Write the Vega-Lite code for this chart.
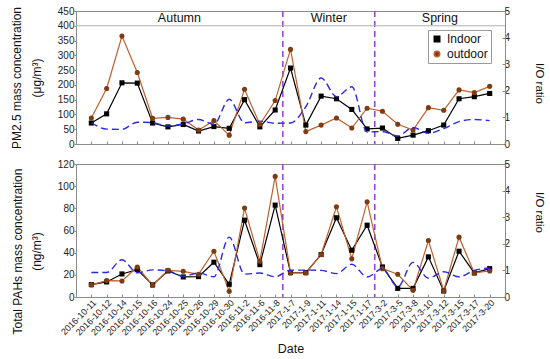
{
  "$schema": "https://vega.github.io/schema/vega-lite/v6.json",
  "padding": {"left": 9, "top": 5, "right": 2, "bottom": 2},
  "spacing": 20,
  "bounds": "flush",
  "background": "white",
  "config": {
    "font": "Liberation Sans",
    "view": {"stroke": "#8c8c8c", "strokeWidth": 1},
    "axis": {
      "grid": false,
      "domainColor": "#8c8c8c",
      "tickColor": "#8c8c8c",
      "labelColor": "#222222",
      "labelFont": "Liberation Sans",
      "labelFontSize": 10,
      "labelOverlap": false,
      "titleFont": "Liberation Sans",
      "titleFontWeight": "normal",
      "titleFontSize": 12,
      "titleColor": "#111111"
    }
  },
  "datasets": {
    "pm": [
      {"idx": 0, "date": "2016-10-11", "Indoor": 71, "outdoor": 88, "ratio": 0.80},
      {"idx": 1, "date": "2016-10-12", "Indoor": 102, "outdoor": 188, "ratio": 0.56},
      {"idx": 2, "date": "2016-10-14", "Indoor": 207, "outdoor": 365, "ratio": 0.55},
      {"idx": 3, "date": "2016-10-15", "Indoor": 206, "outdoor": 242, "ratio": 0.82},
      {"idx": 4, "date": "2016-10-16", "Indoor": 71, "outdoor": 87, "ratio": 0.80},
      {"idx": 5, "date": "2016-10-24", "Indoor": 58, "outdoor": 90, "ratio": 0.68},
      {"idx": 6, "date": "2016-10-25", "Indoor": 66, "outdoor": 84, "ratio": 0.76},
      {"idx": 7, "date": "2016-10-26", "Indoor": 44, "outdoor": 47, "ratio": 0.92},
      {"idx": 8, "date": "2016-10-29", "Indoor": 59, "outdoor": 79, "ratio": 0.74},
      {"idx": 9, "date": "2016-10-30", "Indoor": 53, "outdoor": 30, "ratio": 1.68},
      {"idx": 10, "date": "2016-11-2", "Indoor": 150, "outdoor": 185, "ratio": 0.80},
      {"idx": 11, "date": "2016-11-6", "Indoor": 58, "outdoor": 66, "ratio": 0.86},
      {"idx": 12, "date": "2016-11-8", "Indoor": 115, "outdoor": 147, "ratio": 0.78},
      {"idx": 13, "date": "2017-1-7", "Indoor": 257, "outdoor": 320, "ratio": 0.79},
      {"idx": 14, "date": "2017-1-9", "Indoor": 64, "outdoor": 42, "ratio": 1.40},
      {"idx": 15, "date": "2017-1-11", "Indoor": 162, "outdoor": 64, "ratio": 2.48},
      {"idx": 16, "date": "2017-1-14", "Indoor": 153, "outdoor": 88, "ratio": 1.78},
      {"idx": 17, "date": "2017-1-15", "Indoor": 117, "outdoor": 54, "ratio": 2.15},
      {"idx": 18, "date": "2017-1-17", "Indoor": 51, "outdoor": 121, "ratio": 0.45},
      {"idx": 19, "date": "2017-3-2", "Indoor": 54, "outdoor": 111, "ratio": 0.47},
      {"idx": 20, "date": "2017-3-5", "Indoor": 19, "outdoor": 67, "ratio": 0.30},
      {"idx": 21, "date": "2017-3-8", "Indoor": 30, "outdoor": 47, "ratio": 0.62},
      {"idx": 22, "date": "2017-3-10", "Indoor": 45, "outdoor": 123, "ratio": 0.40},
      {"idx": 23, "date": "2017-3-12", "Indoor": 64, "outdoor": 114, "ratio": 0.58},
      {"idx": 24, "date": "2017-3-15", "Indoor": 153, "outdoor": 183, "ratio": 0.84},
      {"idx": 25, "date": "2017-3-17", "Indoor": 160, "outdoor": 174, "ratio": 0.92},
      {"idx": 26, "date": "2017-3-20", "Indoor": 171, "outdoor": 195, "ratio": 0.88}
    ],
    "pah": [
      {"idx": 0, "date": "2016-10-11", "Indoor": 11.2, "outdoor": 10.9, "ratio": 0.92},
      {"idx": 1, "date": "2016-10-12", "Indoor": 13.6, "outdoor": 14.8, "ratio": 0.92},
      {"idx": 2, "date": "2016-10-14", "Indoor": 20.8, "outdoor": 14.5, "ratio": 1.40},
      {"idx": 3, "date": "2016-10-15", "Indoor": 24.7, "outdoor": 27.1, "ratio": 0.91},
      {"idx": 4, "date": "2016-10-16", "Indoor": 10.9, "outdoor": 10.6, "ratio": 1.02},
      {"idx": 5, "date": "2016-10-24", "Indoor": 23.5, "outdoor": 24.1, "ratio": 0.98},
      {"idx": 6, "date": "2016-10-25", "Indoor": 18.1, "outdoor": 23.2, "ratio": 0.78},
      {"idx": 7, "date": "2016-10-26", "Indoor": 18.4, "outdoor": 20.5, "ratio": 0.90},
      {"idx": 8, "date": "2016-10-29", "Indoor": 31.4, "outdoor": 41.3, "ratio": 0.76},
      {"idx": 9, "date": "2016-10-30", "Indoor": 11.5, "outdoor": 5.1, "ratio": 2.25},
      {"idx": 10, "date": "2016-11-2", "Indoor": 69.3, "outdoor": 80.2, "ratio": 0.86},
      {"idx": 11, "date": "2016-11-6", "Indoor": 29.2, "outdoor": 32.3, "ratio": 0.90},
      {"idx": 12, "date": "2016-11-8", "Indoor": 82.9, "outdoor": 108.8, "ratio": 0.76},
      {"idx": 13, "date": "2017-1-7", "Indoor": 22.0, "outdoor": 21.7, "ratio": 1.01},
      {"idx": 14, "date": "2017-1-9", "Indoor": 22.0, "outdoor": 21.7, "ratio": 1.01},
      {"idx": 15, "date": "2017-1-11", "Indoor": 38.3, "outdoor": 38.3, "ratio": 1.0},
      {"idx": 16, "date": "2017-1-14", "Indoor": 71.5, "outdoor": 81.4, "ratio": 0.88},
      {"idx": 17, "date": "2017-1-15", "Indoor": 42.2, "outdoor": 34.4, "ratio": 1.23},
      {"idx": 18, "date": "2017-1-17", "Indoor": 64.8, "outdoor": 85.9, "ratio": 0.75},
      {"idx": 19, "date": "2017-3-2", "Indoor": 27.1, "outdoor": 25.6, "ratio": 1.06},
      {"idx": 20, "date": "2017-3-5", "Indoor": 7.8, "outdoor": 20.5, "ratio": 0.38},
      {"idx": 21, "date": "2017-3-8", "Indoor": 7.8, "outdoor": 6.0, "ratio": 1.30},
      {"idx": 22, "date": "2017-3-10", "Indoor": 36.2, "outdoor": 51.0, "ratio": 0.71},
      {"idx": 23, "date": "2017-3-12", "Indoor": 5.4, "outdoor": 5.7, "ratio": 0.95},
      {"idx": 24, "date": "2017-3-15", "Indoor": 41.3, "outdoor": 54.0, "ratio": 0.76},
      {"idx": 25, "date": "2017-3-17", "Indoor": 21.7, "outdoor": 21.7, "ratio": 1.0},
      {"idx": 26, "date": "2017-3-20", "Indoor": 25.6, "outdoor": 23.5, "ratio": 1.09}
    ],
    "bounds": [{"b": 12.5}, {"b": 18.5}],
    "seasons": [
      {"season": "Autumn", "mid": 5.75},
      {"season": "Winter", "mid": 15.5},
      {"season": "Spring", "mid": 22.75}
    ]
  },
  "resolve": {"scale": {"fill": "independent", "stroke": "independent", "shape": "independent"}},
  "vconcat": [
    {
      "width": 429,
      "height": 133,
      "layer": [
        {
          "layer": [
            {
              "data": {"name": "bounds"},
              "mark": {"type": "rule", "color": "#9a3be0", "strokeDash": [6, 4], "strokeWidth": 1.5},
              "encoding": {
                "x": {"field": "b", "type": "quantitative", "title": null,
                  "scale": {"domain": [-1, 27], "nice": false, "zero": false},
                  "axis": {"values": [0,1,2,3,4,5,6,7,8,9,10,11,12,13,14,15,16,17,18,19,20,21,22,23,24,25,26], "labels": false, "tickSize": -3, "title": null, "labelOverlap": false}}
              }
            },
            {
              "data": {"values": [{}]},
              "mark": {"type": "rule", "color": "#b0b0b0", "strokeWidth": 1},
              "encoding": {
                "y": {"datum": 400, "type": "quantitative",
                  "scale": {"domain": [0, 450], "nice": false},
                  "axis": {"values": [0,50,100,150,200,250,300,350,400,450], "labelOverlap": false, "tickSize": 2, "labelPadding": 0, "titlePadding": 14, "titleLineHeight": 20, "title": ["PM2.5 mass concentration", "(μg/m³)"]}}
              }
            },
            {
              "data": {"name": "seasons"},
              "mark": {"type": "text", "fontSize": 12.5, "font": "Liberation Sans", "color": "#111111", "baseline": "middle"},
              "encoding": {
                "x": {"field": "mid", "type": "quantitative", "title": null,
                  "scale": {"domain": [-1, 27], "nice": false, "zero": false},
                  "axis": {"values": [0,1,2,3,4,5,6,7,8,9,10,11,12,13,14,15,16,17,18,19,20,21,22,23,24,25,26], "labels": false, "tickSize": -3, "title": null, "labelOverlap": false}},
                "y": {"datum": 426, "type": "quantitative",
                  "scale": {"domain": [0, 450], "nice": false},
                  "axis": {"values": [0,50,100,150,200,250,300,350,400,450], "labelOverlap": false, "tickSize": 2, "labelPadding": 0, "titlePadding": 14, "titleLineHeight": 20, "title": ["PM2.5 mass concentration", "(μg/m³)"]}},
                "text": {"field": "season"}
              }
            },
            {
              "data": {"name": "pm"},
              "transform": [{"fold": ["Indoor", "outdoor"], "as": ["series", "value"]}],
              "mark": {"type": "line", "strokeWidth": 1.2},
              "encoding": {
                "x": {"field": "idx", "type": "quantitative", "title": null,
                  "scale": {"domain": [-1, 27], "nice": false, "zero": false},
                  "axis": {"values": [0,1,2,3,4,5,6,7,8,9,10,11,12,13,14,15,16,17,18,19,20,21,22,23,24,25,26], "labels": false, "tickSize": -3, "title": null, "labelOverlap": false}},
                "y": {"field": "value", "type": "quantitative",
                  "scale": {"domain": [0, 450], "nice": false},
                  "axis": {"values": [0,50,100,150,200,250,300,350,400,450], "labelOverlap": false, "tickSize": 2, "labelPadding": 0, "titlePadding": 14, "titleLineHeight": 20, "title": ["PM2.5 mass concentration", "(μg/m³)"]}},
                "detail": {"field": "series"},
                "stroke": {"field": "series", "type": "nominal", "scale": {"domain": ["Indoor", "outdoor"], "range": ["#000000", "#c0602e"]}}
              }
            },
            {
              "data": {"name": "pm"},
              "transform": [{"fold": ["Indoor", "outdoor"], "as": ["series", "value"]}],
              "mark": {"type": "point", "filled": true, "size": 26, "opacity": 1},
              "encoding": {
                "x": {"field": "idx", "type": "quantitative", "title": null,
                  "scale": {"domain": [-1, 27], "nice": false, "zero": false},
                  "axis": {"values": [0,1,2,3,4,5,6,7,8,9,10,11,12,13,14,15,16,17,18,19,20,21,22,23,24,25,26], "labels": false, "tickSize": -3, "title": null, "labelOverlap": false}},
                "y": {"field": "value", "type": "quantitative",
                  "scale": {"domain": [0, 450], "nice": false},
                  "axis": {"values": [0,50,100,150,200,250,300,350,400,450], "labelOverlap": false, "tickSize": 2, "labelPadding": 0, "titlePadding": 14, "titleLineHeight": 20, "title": ["PM2.5 mass concentration", "(μg/m³)"]}},
                "shape": {"field": "series", "type": "nominal", "scale": {"domain": ["Indoor", "outdoor"], "range": ["square", "circle"]}},
                "fill": {
                  "field": "series", "type": "nominal",
                  "scale": {"domain": ["Indoor", "outdoor"], "range": ["#000000", "#7e3c12"]},
                  "legend": {
                    "orient": "none", "legendX": 352, "legendY": 19, "title": null,
                    "strokeColor": "#9a9a9a", "fillColor": "white", "padding": 3,
                    "labelFontSize": 12, "labelFont": "Liberation Sans", "labelColor": "#111111",
                    "symbolSize": 30, "rowPadding": 3, "labelOffset": 4
                  }
                }
              }
            }
          ]
        },
        {
          "data": {"name": "pm"},
          "mark": {"type": "line", "color": "#2b2bd9", "strokeDash": [7, 4], "strokeWidth": 1.4, "interpolate": "monotone"},
          "encoding": {
            "x": {"field": "idx", "type": "quantitative", "title": null,
              "scale": {"domain": [-1, 27], "nice": false, "zero": false},
              "axis": {"values": [0,1,2,3,4,5,6,7,8,9,10,11,12,13,14,15,16,17,18,19,20,21,22,23,24,25,26], "labels": false, "tickSize": -3, "title": null, "labelOverlap": false}},
            "y": {
              "field": "ratio", "type": "quantitative",
              "scale": {"domain": [0, 5], "nice": false},
              "axis": {"orient": "right", "values": [0,1,2,3,4,5], "labelOverlap": false, "tickSize": -3, "labelPadding": 2, "title": "I/O ratio", "titleAngle": 90, "titlePadding": 24, "titleFontSize": 11.5, "titleY": 72}
            }
          }
        }
      ],
      "resolve": {"scale": {"y": "independent"}}
    },
    {
      "width": 429,
      "height": 133,
      "layer": [
        {
          "layer": [
            {
              "data": {"name": "bounds"},
              "mark": {"type": "rule", "color": "#9a3be0", "strokeDash": [6, 4], "strokeWidth": 1.5},
              "encoding": {
                "x": {"field": "b", "type": "quantitative",
                  "scale": {"domain": [-1, 27], "nice": false, "zero": false},
                  "axis": {
                    "values": [0,1,2,3,4,5,6,7,8,9,10,11,12,13,14,15,16,17,18,19,20,21,22,23,24,25,26],
                    "labelExpr": "['2016-10-11','2016-10-12','2016-10-14','2016-10-15','2016-10-16','2016-10-24','2016-10-25','2016-10-26','2016-10-29','2016-10-30','2016-11-2','2016-11-6','2016-11-8','2017-1-7','2017-1-9','2017-1-11','2017-1-14','2017-1-15','2017-1-17','2017-3-2','2017-3-5','2017-3-8','2017-3-10','2017-3-12','2017-3-15','2017-3-17','2017-3-20'][datum.value]",
                    "labelOverlap": false, "labelAngle": -45, "labelFontSize": 9, "tickSize": -3, "labelPadding": 4,
                    "title": "Date", "titleFontSize": 12.5, "titlePadding": 6
                  }}
              }
            },
            {
              "data": {"name": "pah"},
              "transform": [{"fold": ["Indoor", "outdoor"], "as": ["series", "value"]}],
              "mark": {"type": "line", "strokeWidth": 1.2},
              "encoding": {
                "x": {"field": "idx", "type": "quantitative",
                  "scale": {"domain": [-1, 27], "nice": false, "zero": false},
                  "axis": {
                    "values": [0,1,2,3,4,5,6,7,8,9,10,11,12,13,14,15,16,17,18,19,20,21,22,23,24,25,26],
                    "labelExpr": "['2016-10-11','2016-10-12','2016-10-14','2016-10-15','2016-10-16','2016-10-24','2016-10-25','2016-10-26','2016-10-29','2016-10-30','2016-11-2','2016-11-6','2016-11-8','2017-1-7','2017-1-9','2017-1-11','2017-1-14','2017-1-15','2017-1-17','2017-3-2','2017-3-5','2017-3-8','2017-3-10','2017-3-12','2017-3-15','2017-3-17','2017-3-20'][datum.value]",
                    "labelOverlap": false, "labelAngle": -45, "labelFontSize": 9, "tickSize": -3, "labelPadding": 4,
                    "title": "Date", "titleFontSize": 12.5, "titlePadding": 6
                  }},
                "y": {"field": "value", "type": "quantitative",
                  "scale": {"domain": [0, 120], "nice": false},
                  "axis": {"values": [0,20,40,60,80,100,120], "labelOverlap": false, "tickSize": 2, "labelPadding": 0, "titlePadding": 14, "titleLineHeight": 19, "titleY": 87, "title": ["Total PAHs mass concentration", "(ng/m³)"]}},
                "detail": {"field": "series"},
                "stroke": {"field": "series", "type": "nominal", "scale": {"domain": ["Indoor", "outdoor"], "range": ["#000000", "#c0602e"]}, "legend": null}
              }
            },
            {
              "data": {"name": "pah"},
              "transform": [{"fold": ["Indoor", "outdoor"], "as": ["series", "value"]}],
              "mark": {"type": "point", "filled": true, "size": 26, "opacity": 1},
              "encoding": {
                "x": {"field": "idx", "type": "quantitative",
                  "scale": {"domain": [-1, 27], "nice": false, "zero": false},
                  "axis": {
                    "values": [0,1,2,3,4,5,6,7,8,9,10,11,12,13,14,15,16,17,18,19,20,21,22,23,24,25,26],
                    "labelExpr": "['2016-10-11','2016-10-12','2016-10-14','2016-10-15','2016-10-16','2016-10-24','2016-10-25','2016-10-26','2016-10-29','2016-10-30','2016-11-2','2016-11-6','2016-11-8','2017-1-7','2017-1-9','2017-1-11','2017-1-14','2017-1-15','2017-1-17','2017-3-2','2017-3-5','2017-3-8','2017-3-10','2017-3-12','2017-3-15','2017-3-17','2017-3-20'][datum.value]",
                    "labelOverlap": false, "labelAngle": -45, "labelFontSize": 9, "tickSize": -3, "labelPadding": 4,
                    "title": "Date", "titleFontSize": 12.5, "titlePadding": 6
                  }},
                "y": {"field": "value", "type": "quantitative",
                  "scale": {"domain": [0, 120], "nice": false},
                  "axis": {"values": [0,20,40,60,80,100,120], "labelOverlap": false, "tickSize": 2, "labelPadding": 0, "titlePadding": 14, "titleLineHeight": 19, "titleY": 87, "title": ["Total PAHs mass concentration", "(ng/m³)"]}},
                "shape": {"field": "series", "type": "nominal", "scale": {"domain": ["Indoor", "outdoor"], "range": ["square", "circle"]}, "legend": null},
                "fill": {"field": "series", "type": "nominal", "scale": {"domain": ["Indoor", "outdoor"], "range": ["#000000", "#7e3c12"]}, "legend": null}
              }
            }
          ]
        },
        {
          "data": {"name": "pah"},
          "mark": {"type": "line", "color": "#2b2bd9", "strokeDash": [7, 4], "strokeWidth": 1.4, "interpolate": "monotone"},
          "encoding": {
            "x": {"field": "idx", "type": "quantitative",
              "scale": {"domain": [-1, 27], "nice": false, "zero": false},
              "axis": {
                "values": [0,1,2,3,4,5,6,7,8,9,10,11,12,13,14,15,16,17,18,19,20,21,22,23,24,25,26],
                "labelExpr": "['2016-10-11','2016-10-12','2016-10-14','2016-10-15','2016-10-16','2016-10-24','2016-10-25','2016-10-26','2016-10-29','2016-10-30','2016-11-2','2016-11-6','2016-11-8','2017-1-7','2017-1-9','2017-1-11','2017-1-14','2017-1-15','2017-1-17','2017-3-2','2017-3-5','2017-3-8','2017-3-10','2017-3-12','2017-3-15','2017-3-17','2017-3-20'][datum.value]",
                "labelOverlap": false, "labelAngle": -45, "labelFontSize": 9, "tickSize": -3, "labelPadding": 4,
                "title": "Date", "titleFontSize": 12.5, "titlePadding": 6
              }},
            "y": {
              "field": "ratio", "type": "quantitative",
              "scale": {"domain": [0, 5], "nice": false},
              "axis": {"orient": "right", "values": [0,1,2,3,4,5], "labelOverlap": false, "tickSize": -3, "labelPadding": 2, "title": "I/O ratio", "titleAngle": 90, "titlePadding": 24, "titleFontSize": 11.5, "titleY": 48}
            }
          }
        }
      ],
      "resolve": {"scale": {"y": "independent"}}
    }
  ]
}
